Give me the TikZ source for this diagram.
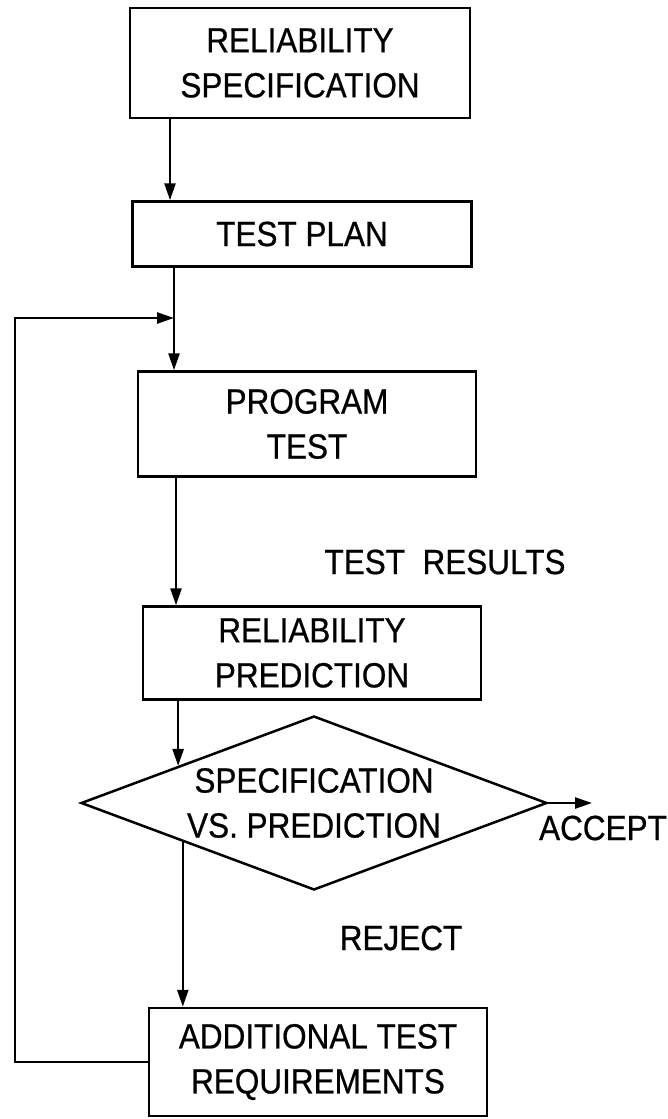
\documentclass[tikz,border=0pt]{standalone}
\usepackage{fontspec}
\setmainfont{Liberation Sans}[FakeStretch=0.9,FakeBold=0.6]
\usetikzlibrary{shapes.geometric,arrows.meta,calc}
\begin{document}
\begin{tikzpicture}[x=1pt,y=-1pt,
  line width=2.5pt,
  every node/.style={font=\fontsize{35}{45}\selectfont, align=center},
  box/.style={draw, rectangle, inner sep=0pt},
  decision/.style={draw, diamond, shape aspect=2.68, inner sep=0pt, minimum width=466pt, minimum height=174pt},
  lbl/.style={inner sep=0pt},
  flow/.style={-{Triangle[length=17pt,width=11pt]}}]
\useasboundingbox (0,0) rectangle (668,1119);
\node[box, minimum width=340pt, minimum height=110pt] (spec) at (300,63) {RELIABILITY\\SPECIFICATION};
\node[box, minimum width=339pt, minimum height=65pt] (plan) at (302,234) {TEST PLAN};
\node[box, minimum width=338pt, minimum height=105pt] (prog) at (307,424) {PROGRAM\\TEST};
\node[box, minimum width=338pt, minimum height=93pt] (pred) at (312,653) {RELIABILITY\\PREDICTION};
\node[decision] (dia) at (314,803) {SPECIFICATION\\VS. PREDICTION};
\node[box, minimum width=338pt, minimum height=108pt] (add) at (318,1062) {ADDITIONAL TEST\\REQUIREMENTS};
\node[lbl] (res) at (445,562) {TEST\ \ RESULTS};
\node[lbl] (rej) at (401,938) {REJECT};
\node[lbl] (acc) at (603,828) {ACCEPT};
\coordinate (c1) at (170,0);
\coordinate (j) at (174,318);
\coordinate (lft) at (15,318);
\coordinate (c3) at (176,0);
\coordinate (accend) at (592,803);
\coordinate (din) at ($(dia.west)!0.42!(dia.north)$);
\coordinate (dout) at ($(dia.west)!0.44!(dia.south)$);
\draw[flow] (spec.south -| c1) -- (plan.north -| c1);
\draw (plan.south -| j) -- (j);
\draw[flow] (j) -- (prog.north -| j);
\draw[flow] (prog.south -| c3) -- (pred.north -| c3);
\draw[flow] (pred.south -| din) -- (din);
\draw[flow] (dia.east) -- (accend);
\draw[flow] (dout) -- (add.north -| dout);
\draw[flow] (add.west) -| (lft) -- (j);
\end{tikzpicture}
\end{document}
